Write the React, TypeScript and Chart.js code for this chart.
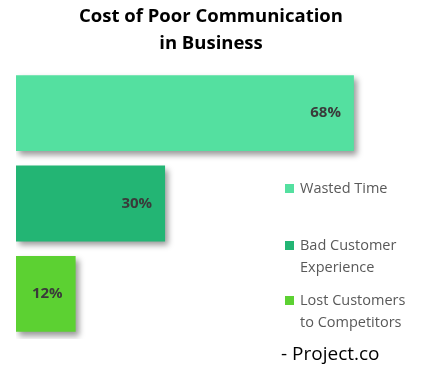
import React, { useEffect, useRef } from "react";
import { Chart, registerables } from "chart.js";

Chart.register(...registerables);

const titleLines = ["Cost of Poor Communication", "in Business"];
const categories = [["Wasted Time"], ["Bad Customer", "Experience"], ["Lost Customers", "to Competitors"]];
const values = [68, 30, 12];
const colors = ["#54E0A0", "#23B574", "#5CD132"];
const sourceText = "- Project.co";

const FONT = "'Open Sans', 'Noto Sans', sans-serif";

const shadowPlugin = {
  id: "barShadow",
  beforeDatasetsDraw(chart: any) {
    const ctx = chart.ctx;
    ctx.save();
    ctx.shadowColor = "rgba(0,0,0,0.4)";
    ctx.shadowBlur = 6;
    ctx.shadowOffsetX = 3;
    ctx.shadowOffsetY = 4;
  },
  afterDatasetsDraw(chart: any) {
    chart.ctx.restore();
  },
};

const decorPlugin = {
  id: "decor",
  afterDraw(chart: any) {
    const ctx = chart.ctx;
    ctx.save();
    // title
    ctx.fillStyle = "#000";
    ctx.font = `bold 18.5px ${FONT}`;
    ctx.textAlign = "center";
    ctx.textBaseline = "middle";
    titleLines.forEach((t, i) => ctx.fillText(t, 211, 17 + i * 27));

    // value labels
    const meta = chart.getDatasetMeta(0);
    ctx.font = `bold 15px ${FONT}`;
    ctx.fillStyle = "#3a3a3a";
    ctx.textAlign = "right";
    meta.data.forEach((bar: any, i: number) => {
      ctx.fillText(values[i] + "%", bar.x - 13, bar.y);
    });

    // legend
    const legendTops = [188.5, 245.5, 300.5];
    ctx.font = `14.5px ${FONT}`;
    ctx.textAlign = "left";
    categories.forEach((lines, i) => {
      const y = legendTops[i];
      ctx.fillStyle = colors[i];
      ctx.fillRect(285, y - 4.5, 9, 9);
      ctx.fillStyle = "#595959";
      lines.forEach((l, j) => ctx.fillText(l, 300, y + j * 22));
    });

    // source
    ctx.fillStyle = "#000";
    ctx.font = `19px ${FONT}`;
    ctx.fillText(sourceText, 281, 355);
    ctx.restore();
  },
};

export default function App() {
  const ref = useRef<HTMLCanvasElement>(null);
  useEffect(() => {
    const chart = new Chart(ref.current!, {
      type: "bar",
      data: {
        labels: categories,
        datasets: [
          {
            data: values,
            backgroundColor: colors,
            borderWidth: 0,
            barPercentage: 0.84,
            categoryPercentage: 1,
          },
        ],
      },
      options: {
        indexAxis: "y",
        animation: false,
        responsive: false,
        maintainAspectRatio: false,
        layout: { padding: { top: 68, left: 16, right: 10, bottom: 39 } },
        scales: {
          x: { display: false, min: 0, max: 80.5, grid: { display: false } },
          y: { display: false, grid: { display: false } },
        },
        plugins: {
          legend: { display: false },
          tooltip: { enabled: false },
          title: { display: false },
        },
      },
      plugins: [shadowPlugin, decorPlugin],
    });
    return () => chart.destroy();
  }, []);
  return (
    <div style={{ position: "fixed", left: 0, top: 0, width: 426, height: 378, background: "#fff" }}>
      <canvas ref={ref} width={426} height={378} style={{ display: "block" }} />
    </div>
  );
}
